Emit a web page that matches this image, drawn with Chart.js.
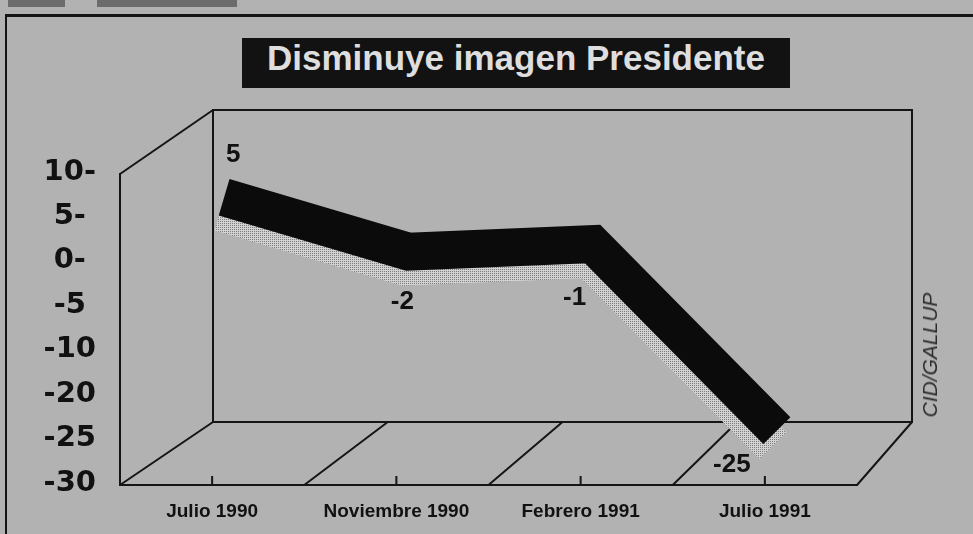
<!DOCTYPE html>
<html>
<head>
<meta charset="utf-8">
<title>Disminuye imagen Presidente</title>
<script src="https://cdn.jsdelivr.net/npm/chart.js@4.4.0/dist/chart.umd.min.js"></script>
<style>
  html, body { margin: 0; padding: 0; background: #b2b2b2; }
  #wrap { position: relative; width: 973px; height: 534px; overflow: hidden; }
  #chart { position: absolute; left: 0; top: 0; }
  .scrap { position: absolute; top: 0; height: 7px; background: #6c6c6c; }
  #frame { position: absolute; left: 5px; top: 14px; right: -10px; bottom: -10px;
           border-top: 3px solid #151515; border-left: 2px solid #151515; }
  #title { position: absolute; left: 242px; top: 38px; width: 548px; height: 50px;
           background: #121212; color: #dedede; text-align: center; line-height: 50px;
           font: bold 35px "Liberation Sans", Arial, sans-serif; }
  #source { position: absolute; left: 930px; top: 355px; transform: translate(-50%, -50%) rotate(-90deg);
            white-space: nowrap; font: italic 21px "Liberation Sans", Arial, sans-serif; color: #2c2c2c; }
</style>
</head>
<body>
<div id="wrap">
  <div class="scrap" style="left:8px;width:57px"></div>
  <div class="scrap" style="left:97px;width:140px"></div>
  <div id="frame"></div>
  <canvas id="chart" width="973" height="534"></canvas>
  <div id="title">Disminuye imagen Presidente</div>
  <div id="source">CID/GALLUP</div>
</div>
<script>
const periods = ["Julio 1990", "Noviembre 1990", "Febrero 1991", "Julio 1991"];
const imagen = [5, -2, -1, -25];
const yTickLabels = ["10-", "5-", "0-", "-5", "-10", "-20", "-25", "-30"];

// where each value label sits relative to its point
const labelOffsets = [[21, -42], [6, 50], [-6, 54], [-33, 34]];

function stipple() {
    const c = document.createElement("canvas");
    c.width = 2;
    c.height = 2;
    const g = c.getContext("2d");
    g.fillStyle = "#d2d2d2";
    g.fillRect(0, 0, 2, 2);
    g.fillStyle = "#7c7c7c";
    g.fillRect(0, 0, 1, 1);
    return g.createPattern(c, "repeat");
}

// back wall, floor and tick marks of the 3D box
const box3d = {
    id: "box3d",
    beforeDatasetsDraw(chart) {
        const { ctx, chartArea: a, scales: { x } } = chart;
        const bl = a.left + 93, br = a.right + 55, bt = a.top - 64, bb = a.bottom - 63;
        const back = (fx) => bl + ((fx - a.left) / (a.right - a.left)) * (br - bl);
        ctx.save();
        ctx.strokeStyle = "#151515";
        ctx.lineWidth = 2;
        ctx.beginPath();
        ctx.rect(bl, bt, br - bl, bb - bt);
        ctx.moveTo(a.left, a.top);
        ctx.lineTo(bl, bt);
        const n = periods.length;
        for (let i = 0; i <= n; i++) {
            const fx = a.left + (i * (a.right - a.left)) / n;
            ctx.moveTo(fx, a.bottom);
            ctx.lineTo(back(fx), bb);
        }
        periods.forEach((p, i) => {
            const px = x.getPixelForValue(i);
            ctx.moveTo(px, a.bottom);
            ctx.lineTo(px, a.bottom - 9);
        });
        ctx.stroke();
        ctx.restore();
    },
};

// push the ribbon a little into the box, shadow below it
const depth = {
    id: "depth",
    beforeDatasetDraw(chart, args) {
        const ctx = chart.ctx;
        ctx.save();
        if (args.index === 0) ctx.translate(12, 0);
        else ctx.translate(8, 15);
    },
    afterDatasetDraw(chart) {
        chart.ctx.restore();
    },
};

const valueLabels = {
    id: "valueLabels",
    afterDatasetsDraw(chart) {
        const ctx = chart.ctx;
        const meta = chart.getDatasetMeta(0);
        ctx.save();
        ctx.fillStyle = "#111";
        ctx.font = 'bold 26px "Liberation Sans"';
        ctx.textAlign = "center";
        ctx.textBaseline = "middle";
        meta.data.forEach((pt, i) => {
            ctx.fillText(String(imagen[i]), pt.x + labelOffsets[i][0], pt.y + labelOffsets[i][1]);
        });
        ctx.restore();
    },
};

const ctx = document.getElementById("chart").getContext("2d");
const chart = new Chart(ctx, {
    type: "line",
    data: {
        labels: periods,
        datasets: [
            {
                label: "Imagen",
                data: imagen,
                yAxisID: "yData",
                borderColor: "#0b0b0b",
                borderWidth: 38,
                borderJoinStyle: "miter",
                borderCapStyle: "butt",
                pointRadius: 0,
                tension: 0,
                clip: false,
            },
            {
                label: "Sombra",
                data: imagen,
                yAxisID: "yData",
                borderColor: stipple(),
                borderWidth: 38,
                borderJoinStyle: "miter",
                borderCapStyle: "butt",
                pointRadius: 0,
                tension: 0,
                clip: false,
            },
        ],
    },
    options: {
        responsive: false,
        animation: false,
        layout: { padding: { left: 0, right: 116, top: 174, bottom: 0 } },
        plugins: {
            legend: { display: false },
            tooltip: { enabled: false },
        },
        scales: {
            x: {
                type: "category",
                offset: true,
                grid: { display: false, drawTicks: false },
                border: { display: true, color: "#151515", width: 2 },
                ticks: {
                    color: "#111",
                    font: { family: "Liberation Sans", weight: "bold", size: 19 },
                    padding: 15,
                    maxRotation: 0,
                    autoSkip: false,
                },
                afterFit: (s) => { s.height = 49; },
            },
            y: {
                type: "category",
                labels: yTickLabels,
                position: "left",
                offset: false,
                grid: { display: false, drawTicks: false },
                border: { display: true, color: "#151515", width: 2 },
                ticks: {
                    color: "#111",
                    font: { family: "DejaVu Sans", weight: "bold", size: 29 },
                    crossAlign: "center",
                    padding: 24,
                    labelOffset: -2,
                    autoSkip: false,
                },
                afterFit: (s) => { s.width = 120; },
            },
            yData: {
                type: "linear",
                position: "left",
                display: false,
                min: -32,
                max: 8,
            },
        },
    },
    plugins: [box3d, depth, valueLabels],
});
</script>
</body>
</html>
